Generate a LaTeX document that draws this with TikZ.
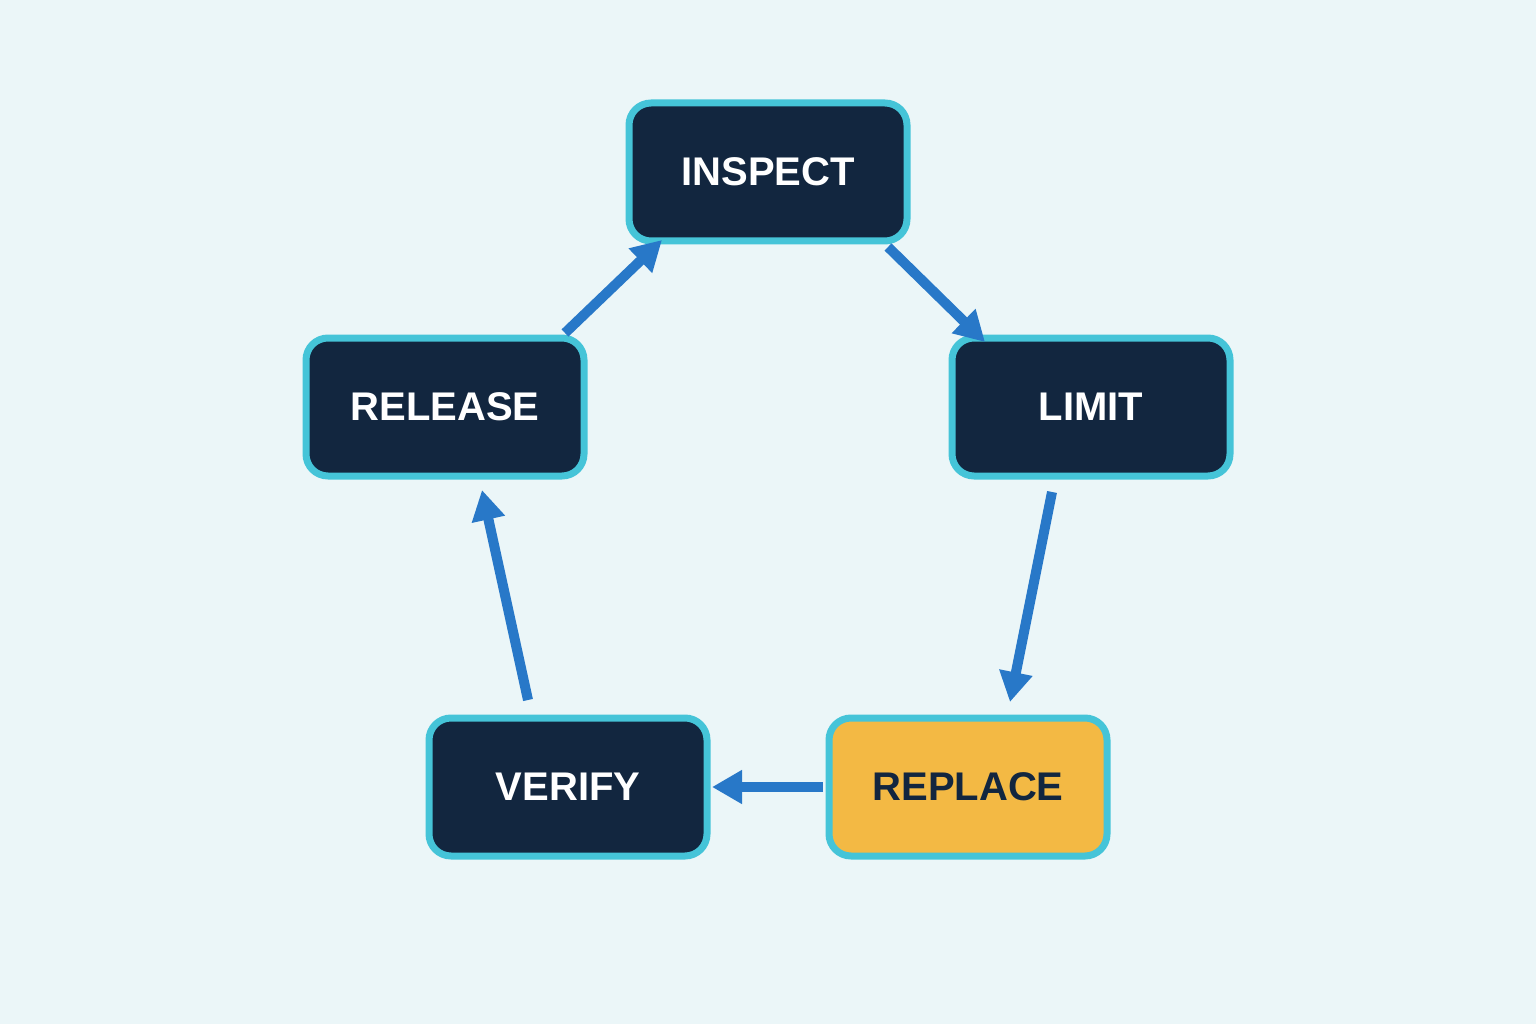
\documentclass[tikz,border=0pt]{standalone}
\usepackage{fontspec}
\setmainfont{Liberation Sans}
\usetikzlibrary{arrows.meta}
\definecolor{bg}{HTML}{EBF6F8}
\definecolor{navy}{HTML}{12263F}
\definecolor{cyanb}{HTML}{45C4D8}
\definecolor{arr}{HTML}{2878C8}
\definecolor{gold}{HTML}{F3B944}
\begin{document}
\begin{tikzpicture}[x=1pt,y=-1pt,
  box/.style={draw=cyanb,line width=7pt,fill=navy,rounded corners=22pt,minimum width=278pt,minimum height=138pt,text=white,font=\bfseries\fontsize{40}{40}\selectfont},
  hl/.style={box,fill=gold,text=navy},
  conn/.style={draw=arr,line width=10pt,-{Triangle[length=30pt,width=32pt]}}]
\fill[bg] (0,0) rectangle (1536,1024);
\useasboundingbox (0,0) rectangle (1536,1024);
\node[box] (inspect) at (768,172) {INSPECT};
\node[box] (release) at (445,407) {RELEASE};
\node[box] (limit) at (1091,407) {LIMIT};
\node[box] (verify) at (568,787) {VERIFY};
\node[hl] (replace) at (968,787) {REPLACE};
\coordinate (a1) at (888,247); \coordinate (a2) at (985,342);
\coordinate (b1) at (1052,492); \coordinate (b2) at (1010,702);
\coordinate (c1) at (823,787); \coordinate (c2) at (712,787);
\coordinate (d1) at (528,700); \coordinate (d2) at (482,490);
\coordinate (e1) at (565,333); \coordinate (e2) at (662,240);
\draw[conn] (a1) -- (a2);
\draw[conn] (b1) -- (b2);
\draw[conn] (c1) -- (c2);
\draw[conn] (d1) -- (d2);
\draw[conn] (e1) -- (e2);
\end{tikzpicture}
\end{document}
